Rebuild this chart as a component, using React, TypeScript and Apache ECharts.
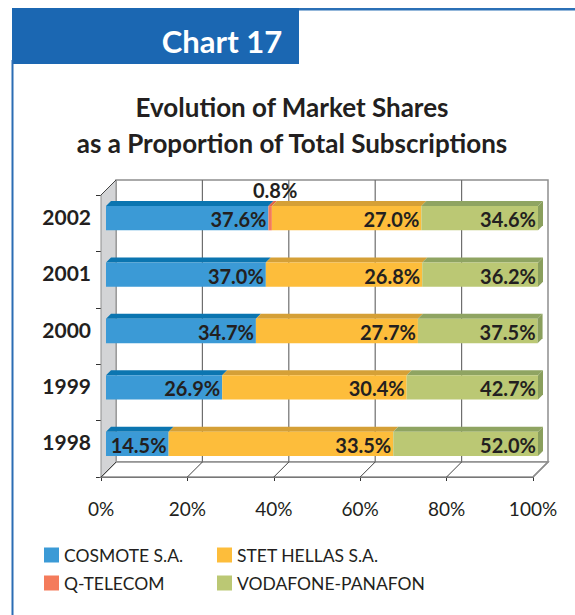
import React, { useEffect, useRef } from 'react';
import * as echarts from 'echarts';

const years = ['1998', '1999', '2000', '2001', '2002'];
const cosmote = [14.5, 26.9, 34.7, 37.0, 37.6];
const qtelecom = [0, 0, 0, 0, 0.8];
const stet = [33.5, 30.4, 27.7, 26.8, 27.0];
const vodafone = [52.0, 42.7, 37.5, 36.2, 34.6];
const xTicks = [0, 20, 40, 60, 80, 100];
const chartLabel = 'Chart 17';
const titleLine1 = 'Evolution of Market Shares';
const titleLine2 = 'as a Proportion of Total Subscriptions';

// In the reference picture the yellow (STET) segments are drawn with the length of the
// VODAFONE share and the green segments with the STET length, while the printed labels
// show each company's own value. Reproduced as drawn: `lengths` sizes the segment, `labels` is printed.
const seriesDefs = [
  { name: 'COSMOTE S.A.', lengths: cosmote, labels: cosmote, front: '#3b9ad6', top: '#0b75b0', side: '#0b6ca3' },
  { name: 'Q-TELECOM', lengths: qtelecom, labels: qtelecom, front: '#f47b5b', top: '#e0664a', side: '#d05a40' },
  { name: 'STET HELLAS S.A.', lengths: vodafone, labels: stet, front: '#fdbd3b', top: '#d5a037', side: '#c99433' },
  { name: 'VODAFONE-PANAFON', lengths: stet, labels: vodafone, front: '#bbc874', top: '#8fa462', side: '#8a9f5d' },
];

const FONT = 'Lato, "Open Sans", sans-serif';
const DB = 15; // back wall depth
const D0 = 5; // bar front plane depth
const T = 5; // bar thickness

export default function App() {
  const ref = useRef<HTMLDivElement>(null);
  useEffect(() => {
    if (!ref.current) return;
    const chart = echarts.init(ref.current, undefined, { renderer: 'svg' });

    const starts: number[][] = [];
    const acc = years.map(() => 0);
    seriesDefs.forEach((s, si) => {
      starts[si] = acc.slice();
      s.lengths.forEach((v, i) => { acc[i] += v; });
    });
    const lastIdx = seriesDefs.length - 1;

    const barSeries = seriesDefs.map((s, si) => ({
      type: 'custom',
      name: s.name,
      z: 3,
      itemStyle: { color: s.front },
      encode: { x: [0, 1], y: 2 },
      data: s.lengths.map((v, i) => [starts[si][i], starts[si][i] + v, i, s.labels[i]]),
      renderItem: (params: any, api: any) => {
        const sv = api.value(0), ev = api.value(1), yi = api.value(2), v = api.value(3);
        if (!v) return { type: 'group', children: [] };
        const p0 = api.coord([sv, yi]);
        const p1 = api.coord([ev, yi]);
        const band = api.size([0, 1])[1];
        const h = band * 0.43;
        const x0 = p0[0] + D0, x1 = p1[0] + D0;
        const yc = p0[1] - D0;
        const yTop = yc - h / 2, yBot = yc + h / 2;
        const children: any[] = [
          { type: 'polygon', shape: { points: [[x0, yTop], [x1, yTop], [x1 + T, yTop - T], [x0 + T, yTop - T]] }, style: { fill: s.top } },
          { type: 'rect', shape: { x: x0, y: yTop, width: x1 - x0, height: h }, style: { fill: s.front } },
        ];
        if (si === lastIdx) {
          children.push({ type: 'polygon', shape: { points: [[x1, yTop], [x1 + T, yTop - T], [x1 + T, yBot - T], [x1, yBot]] }, style: { fill: s.side } });
        }
        const txt = v.toFixed(1) + '%';
        if (ev - sv > 5) {
          children.push({ type: 'text', style: { text: txt, x: x1 - 2, y: yc + 1, align: 'right', verticalAlign: 'middle', fill: '#231f20', fontSize: 20, fontWeight: 'bold', fontFamily: FONT } });
        } else {
          children.push({ type: 'text', style: { text: txt, x: (x0 + x1) / 2 + 5, y: yTop - 16, align: 'center', verticalAlign: 'middle', fill: '#231f20', fontSize: 20, fontWeight: 'bold', fontFamily: FONT } });
        }
        return { type: 'group', children };
      },
    }));

    const frameSeries = {
      type: 'custom',
      name: 'frame',
      z: 1,
      silent: true,
      data: [[0, 0]],
      encode: { x: 0, y: 1 },
      renderItem: (params: any, api: any) => {
        const cs = params.coordSys;
        const x = cs.x, y = cs.y, w = cs.width, h = cs.height;
        const children: any[] = [];
        children.push({ type: 'rect', shape: { x: x + DB, y: y - DB, width: w, height: h }, style: { fill: '#ffffff', stroke: '#8e8e8e', lineWidth: 1.5 } });
        children.push({ type: 'polygon', shape: { points: [[x, y + h], [x + w, y + h], [x + w + DB, y + h - DB], [x + DB, y + h - DB]] }, style: { fill: '#ffffff', stroke: '#8e8e8e', lineWidth: 1.5 } });
        children.push({ type: 'polygon', shape: { points: [[x, y], [x + DB, y - DB], [x + DB, y + h - DB], [x, y + h]] }, style: { fill: '#d3d4d6', stroke: '#8e8e8e', lineWidth: 1 } });
        xTicks.forEach((t) => {
          const cx = api.coord([t, 0])[0];
          if (t > 0 && t < 100) {
            children.push({ type: 'line', shape: { x1: cx + DB, y1: y - DB, x2: cx + DB, y2: y + h - DB }, style: { stroke: '#6e6e6e', lineWidth: 1.2 } });
          }
          children.push({ type: 'line', shape: { x1: cx, y1: y + h, x2: cx + DB, y2: y + h - DB }, style: { stroke: t === 100 ? '#8e8e8e' : '#444', lineWidth: t === 100 ? 1.5 : 1 } });
        });
        children.push({ type: 'line', shape: { x1: x, y1: y, x2: x + DB, y2: y - DB }, style: { stroke: '#444', lineWidth: 1 } });
        return { type: 'group', children };
      },
    };

    const legendText = { fontSize: 17.5, color: '#231f20', fontFamily: FONT };
    const option: any = {
      animation: false,
      backgroundColor: '#ffffff',
      grid: { left: 101, right: 42, top: 195, bottom: 138, containLabel: false },
      xAxis: {
        type: 'value', min: 0, max: 100, interval: 20,
        splitLine: { show: false },
        axisLine: { show: true, lineStyle: { color: '#333', width: 1 } },
        axisTick: { show: true, length: 4, lineStyle: { color: '#333' } },
        axisLabel: { formatter: '{value}%', fontSize: 19, color: '#231f20', margin: 22, fontFamily: FONT },
      },
      yAxis: {
        type: 'category', data: years,
        axisLine: { show: true, lineStyle: { color: '#333', width: 1 } },
        axisTick: { show: true, length: 5, lineStyle: { color: '#333' } },
        axisLabel: { fontSize: 21, fontWeight: 'bold', color: '#231f20', margin: 10, fontFamily: FONT, verticalAlign: 'bottom', lineHeight: 14 },
      },
      legend: [
        {
          orient: 'vertical', left: 44, top: 546, padding: 0, itemWidth: 15, itemHeight: 15, itemGap: 10, icon: 'rect',
          data: ['COSMOTE S.A.', 'Q-TELECOM'], textStyle: legendText,
        },
        {
          orient: 'vertical', left: 217, top: 546, padding: 0, itemWidth: 15, itemHeight: 15, itemGap: 10, icon: 'rect',
          data: ['STET HELLAS S.A.', 'VODAFONE-PANAFON'], textStyle: legendText,
        },
      ],
      graphic: [
        { type: 'rect', shape: { x: 12, y: 8, width: 287, height: 56 }, style: { fill: '#1b67b2' }, silent: true },
        { type: 'rect', shape: { x: 299, y: 8, width: 276, height: 2.5 }, style: { fill: '#2b70b6' }, silent: true },
        { type: 'rect', shape: { x: 11.5, y: 60, width: 2, height: 560 }, style: { fill: '#2b6db4' }, silent: true },
        { type: 'text', x: 222, y: 41, style: { text: chartLabel, fill: '#ffffff', fontSize: 31, fontWeight: 'bold', fontFamily: FONT, align: 'center', verticalAlign: 'middle' }, silent: true },
        { type: 'text', x: 292, y: 107, style: { text: titleLine1, fill: '#231f20', fontSize: 26, fontWeight: 'bold', fontFamily: FONT, align: 'center', verticalAlign: 'middle' }, silent: true },
        { type: 'text', x: 292, y: 143, style: { text: titleLine2, fill: '#231f20', fontSize: 26, fontWeight: 'bold', fontFamily: FONT, align: 'center', verticalAlign: 'middle' }, silent: true },
      ],
      series: [frameSeries, ...barSeries],
    };
    chart.setOption(option);
    return () => chart.dispose();
  }, []);
  return <div ref={ref} style={{ position: 'absolute', left: 0, top: 0, width: 575, height: 615 }} />;
}
